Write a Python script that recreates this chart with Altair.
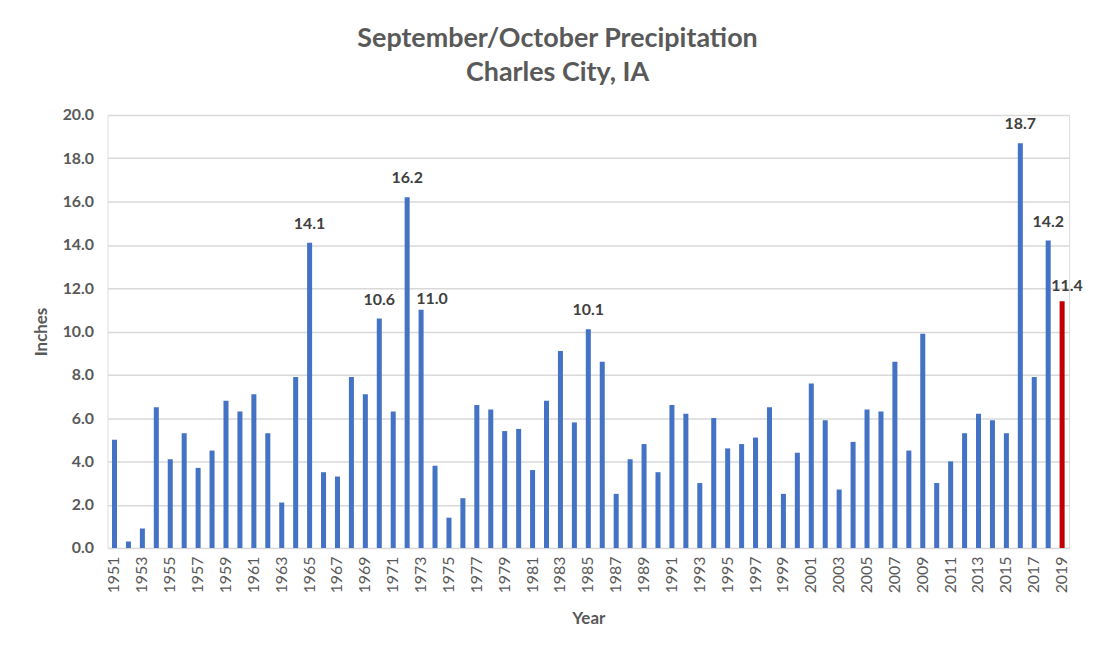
import altair as alt
import pandas as pd

years = list(range(1951, 2020))
precip = [
    5.0, 0.3, 0.9, 6.5, 4.1, 5.3, 3.7, 4.5, 6.8, 6.3,
    7.1, 5.3, 2.1, 7.9, 14.1, 3.5, 3.3, 7.9, 7.1, 10.6,
    6.3, 16.2, 11.0, 3.8, 1.4, 2.3, 6.6, 6.4, 5.4, 5.5,
    3.6, 6.8, 9.1, 5.8, 10.1, 8.6, 2.5, 4.1, 4.8, 3.5,
    6.6, 6.2, 3.0, 6.0, 4.6, 4.8, 5.1, 6.5, 2.5, 4.4,
    7.6, 5.9, 2.7, 4.9, 6.4, 6.3, 8.6, 4.5, 9.9, 3.0,
    4.0, 5.3, 6.2, 5.9, 5.3, 18.7, 7.9, 14.2, 11.4,
]
labeled_years = [1965, 1970, 1972, 1985, 2016, 2018]
current_year = 2019

df = pd.DataFrame({
    "Year": [str(y) for y in years],
    "Inches": precip,
    "Current": [y == current_year for y in years],
})

FONT = "Lato"
GRAY = "#595959"

x_enc = alt.X(
    "Year:O",
    scale=alt.Scale(paddingInner=0.64, paddingOuter=0.32),
    axis=alt.Axis(
        values=[str(y) for y in years if y % 2 == 1],
        labelAngle=-90,
        labelFontSize=16,
        labelColor=GRAY,
        labelFont=FONT,
        labelPadding=8,
        ticks=False,
        domainColor="#D9D9D9",
        title="Year",
        titleFontSize=17,
        titleFont=FONT,
        titleFontWeight="bold",
        titleColor=GRAY,
        titlePadding=18,
    ),
)
y_enc = alt.Y(
    "Inches:Q",
    scale=alt.Scale(domain=[0, 20]),
    axis=alt.Axis(
        values=list(range(0, 21, 2)),
        format=".1f",
        labelFontSize=16,
        labelFontWeight="bold",
        labelColor=GRAY,
        labelFont=FONT,
        labelPadding=14,
        ticks=False,
        domain=False,
        gridColor="#D9D9D9",
        gridWidth=1.5,
        title="Inches",
        titleFontSize=17,
        titleFont=FONT,
        titleFontWeight="bold",
        titleColor=GRAY,
        titlePadding=12,
    ),
)

base = alt.Chart(df)

bars = base.mark_bar().encode(
    x=x_enc,
    y=y_enc,
    color=alt.condition(alt.datum.Current, alt.value("#C00000"), alt.value("#4472C4")),
)

text_style = dict(font=FONT, fontSize=16, fontWeight="bold", color="#404040", baseline="middle")

labels_main = base.transform_filter(
    alt.FieldOneOfPredicate(field="Year", oneOf=[str(y) for y in labeled_years])
).mark_text(dy=-19, **text_style).encode(
    x="Year:O", y="Inches:Q", text=alt.Text("Inches:Q", format=".1f")
)
label_1973 = base.transform_filter(alt.datum.Year == "1973").mark_text(
    dx=11, dy=-11, **text_style
).encode(x="Year:O", y="Inches:Q", text=alt.Text("Inches:Q", format=".1f"))
label_2019 = base.transform_filter(alt.datum.Year == "2019").mark_text(
    dx=5, dy=-15, **text_style
).encode(x="Year:O", y="Inches:Q", text=alt.Text("Inches:Q", format=".1f"))

chart = (
    alt.layer(bars, labels_main, label_1973, label_2019)
    .properties(
        width=966,
        height=435,
        title=alt.TitleParams(
            ["September/October Precipitation", "Charles City, IA"],
            font=FONT,
            fontSize=27,
            fontWeight="bold",
            color=GRAY,
            anchor="middle",
            frame="bounds",
            lineHeight=34,
            offset=20,
        ),
        autosize=alt.AutoSizeParams(type="none"),
        padding={"left": 100, "top": 106, "right": 20, "bottom": 100},
    )
    .configure_view(stroke=None)
    .configure(background="white")
)

chart.save("out.html", embed_options={"renderer": "svg", "actions": False})
